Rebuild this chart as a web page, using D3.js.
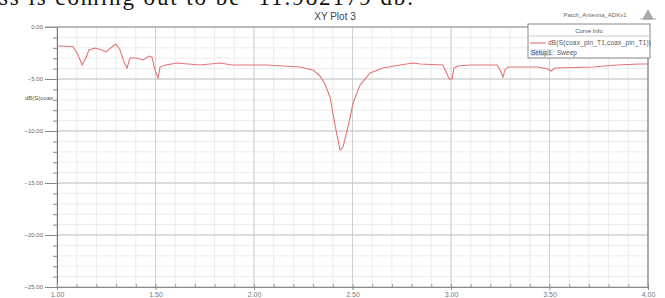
<!DOCTYPE html>
<html>
<head>
<meta charset="utf-8">
<script src="https://cdn.jsdelivr.net/npm/d3@7"></script>
<style>
  body { margin: 0; background: #fff; }
  svg { display: block; }
</style>
</head>
<body>
<div id="chart"></div>
<script>
// frequency in GHz and dB(S(1,1))
var freq = [1.000, 1.081, 1.107, 1.127, 1.147, 1.162, 1.193, 1.228, 1.249, 1.279,
  1.299, 1.320, 1.340, 1.355, 1.371, 1.401, 1.437, 1.467, 1.482, 1.497,
  1.513, 1.523, 1.553, 1.609, 1.726, 1.827, 1.888, 2.066, 2.234, 2.299,
  2.335, 2.360, 2.386, 2.411, 2.437, 2.452, 2.477, 2.503, 2.538, 2.589,
  2.655, 2.741, 2.807, 2.843, 2.959, 2.980, 2.990, 3.005, 3.015, 3.036,
  3.096, 3.234, 3.249, 3.264, 3.274, 3.289, 3.437, 3.492, 3.508, 3.528,
  3.721, 3.843, 3.959, 4.000]
var s11 = [-1.83, -1.88, -2.69, -3.65, -2.98, -2.21, -2.02, -2.21, -2.40, -1.92,
  -1.63, -2.21, -3.37, -3.94, -2.98, -2.98, -3.17, -2.79, -2.88, -4.13,
  -4.90, -3.85, -3.65, -3.46, -3.65, -3.46, -3.65, -3.65, -3.85, -4.13,
  -4.71, -5.48, -6.73, -9.42, -11.83, -11.54, -9.62, -7.31, -5.58, -4.42,
  -3.94, -3.65, -3.46, -3.56, -3.65, -4.52, -5.00, -5.00, -3.94, -3.75,
  -3.65, -3.65, -4.13, -4.81, -4.13, -3.85, -3.85, -4.04, -4.23, -3.94,
  -3.85, -3.65, -3.56, -3.56]

var xTicks = [1.0, 1.5, 2.0, 2.5, 3.0, 3.5, 4.0]
var yTicks = [0, -5, -10, -15, -20, -25]

var w = 665
var h = 298
var curveColor = '#e67474'

var svg = d3.select('#chart').append('svg')
  .attr('width', w)
  .attr('height', h)
  .style('font-family', 'Liberation Sans, Arial, sans-serif')

// bit of document text above the plot (cut by the crop)
svg.append('text')
  .text('ss is coming out to be -11.982179 db.')
  .attr('x', -1)
  .attr('y', 5)
  .attr('font-family', 'Liberation Serif, Times New Roman, serif')
  .attr('font-size', 23)
  .attr('textLength', 414)
  .attr('fill', '#111')

var x = d3.scaleLinear().domain([1, 4]).range([57, 648])
var y = d3.scaleLinear().domain([-25, 0]).range([287, 27])

// minor grid
d3.range(1, 4.001, 0.1).forEach(function (f) {
  svg.append('line')
    .attr('x1', x(f)).attr('x2', x(f))
    .attr('y1', y(0)).attr('y2', y(-25))
    .attr('stroke', '#ececec').attr('stroke-width', 1)
})
d3.range(-25, 0.001, 1).forEach(function (v) {
  svg.append('line')
    .attr('x1', x(1)).attr('x2', x(4))
    .attr('y1', y(v)).attr('y2', y(v))
    .attr('stroke', '#ececec').attr('stroke-width', 1)
})

// major grid
xTicks.forEach(function (f) {
  svg.append('line')
    .attr('x1', x(f)).attr('x2', x(f))
    .attr('y1', y(0)).attr('y2', y(-25))
    .attr('stroke', '#cfcfcf').attr('stroke-width', 1)
})
yTicks.forEach(function (v) {
  svg.append('line')
    .attr('x1', x(1)).attr('x2', x(4))
    .attr('y1', y(v)).attr('y2', y(v))
    .attr('stroke', '#c4c4c4').attr('stroke-width', 1)
})

// axes
var yAxis = d3.axisLeft(y).tickValues(yTicks).tickSize(12).tickPadding(2)
  .tickFormat(d3.format('.2f'))
var gy = svg.append('g').attr('transform', 'translate(' + x(1) + ',0)').call(yAxis)
gy.select('.domain').attr('stroke', '#777')
gy.selectAll('.tick line').attr('stroke', '#888')
gy.selectAll('.tick text').attr('fill', '#666').attr('font-size', 6)
  .text(function (d) { return d === 0 ? '0.00' : d3.format('.2f')(d) })

var yMinor = d3.axisLeft(y).tickValues(d3.range(-25, 0.001, 1)).tickSize(4).tickFormat('')
var gym = svg.append('g').attr('transform', 'translate(' + x(1) + ',0)').call(yMinor)
gym.select('.domain').remove()
gym.selectAll('.tick line').attr('stroke', '#888')

var xAxis = d3.axisBottom(x).tickValues(xTicks).tickSize(3).tickPadding(2)
  .tickFormat(d3.format('.2f'))
var gx = svg.append('g').attr('transform', 'translate(0,' + y(-25) + ')').call(xAxis)
gx.select('.domain').attr('stroke', '#888')
gx.selectAll('.tick line').attr('stroke', '#888')
gx.selectAll('.tick text').attr('fill', '#777').attr('font-size', 7)

var xMinor = d3.axisBottom(x).tickValues(d3.range(1, 4.001, 0.1)).tickSize(-3).tickFormat('')
var gxm = svg.append('g').attr('transform', 'translate(0,' + y(-25) + ')').call(xMinor)
gxm.select('.domain').remove()
gxm.selectAll('.tick line').attr('stroke', '#999')

// top and right frame
svg.append('line')
  .attr('x1', x(1) - 12).attr('x2', x(4))
  .attr('y1', y(0)).attr('y2', y(0))
  .attr('stroke', '#999')
svg.append('line')
  .attr('x1', x(4)).attr('x2', x(4))
  .attr('y1', 58).attr('y2', y(-25))
  .attr('stroke', '#777')

// y axis name, clipped at the axis
svg.append('text')
  .text('dB(S(coax')
  .attr('x', 53).attr('y', 100)
  .attr('text-anchor', 'end')
  .attr('font-size', 6)
  .attr('fill', '#555')

// curve
var pts = freq.map(function (f, i) { return [f, s11[i]] })
svg.append('path')
  .datum(pts)
  .attr('d', d3.line().x(function (d) { return x(d[0]) }).y(function (d) { return y(d[1]) }))
  .attr('fill', 'none')
  .attr('stroke', curveColor)
  .attr('stroke-width', 1.1)

// titles
svg.append('text')
  .text('XY Plot 3')
  .attr('x', 335).attr('y', 20)
  .attr('text-anchor', 'middle')
  .attr('font-size', 10)
  .attr('fill', '#444')

svg.append('text')
  .text('Patch_Antenna_ADKv1')
  .attr('x', 595).attr('y', 17)
  .attr('text-anchor', 'middle')
  .attr('font-size', 6)
  .attr('fill', '#666')

svg.append('path')
  .attr('d', 'M643,19 L648,10 L653,19 Z M640,19 L656,19')
  .attr('fill', '#aaa')
  .attr('stroke', '#999')
  .attr('stroke-width', 0.8)

// legend box
var lg = svg.append('g')
lg.append('rect')
  .attr('x', 528).attr('y', 24).attr('width', 122).attr('height', 34)
  .attr('fill', '#fff').attr('stroke', '#888')
lg.append('line')
  .attr('x1', 528).attr('x2', 650).attr('y1', 36).attr('y2', 36)
  .attr('stroke', '#ccc')
lg.append('text')
  .text('Curve Info')
  .attr('x', 589).attr('y', 33)
  .attr('text-anchor', 'middle')
  .attr('font-size', 6)
  .attr('fill', '#555')
lg.append('line')
  .attr('x1', 530).attr('x2', 546).attr('y1', 43).attr('y2', 43)
  .attr('stroke', curveColor).attr('stroke-width', 1.1)
lg.append('text')
  .text('dB(S(coax_pin_T1,coax_pin_T1))')
  .attr('x', 548).attr('y', 45)
  .attr('font-size', 6.5)
  .attr('textLength', 103)
  .attr('fill', '#555')
lg.append('rect')
  .attr('x', 530).attr('y', 49).attr('width', 23).attr('height', 7)
  .attr('fill', '#dbe6f2')
lg.append('text')
  .text('Setup1 : Sweep')
  .attr('x', 531).attr('y', 55)
  .attr('font-size', 6.5)
  .attr('fill', '#555')
</script>
</body>
</html>
